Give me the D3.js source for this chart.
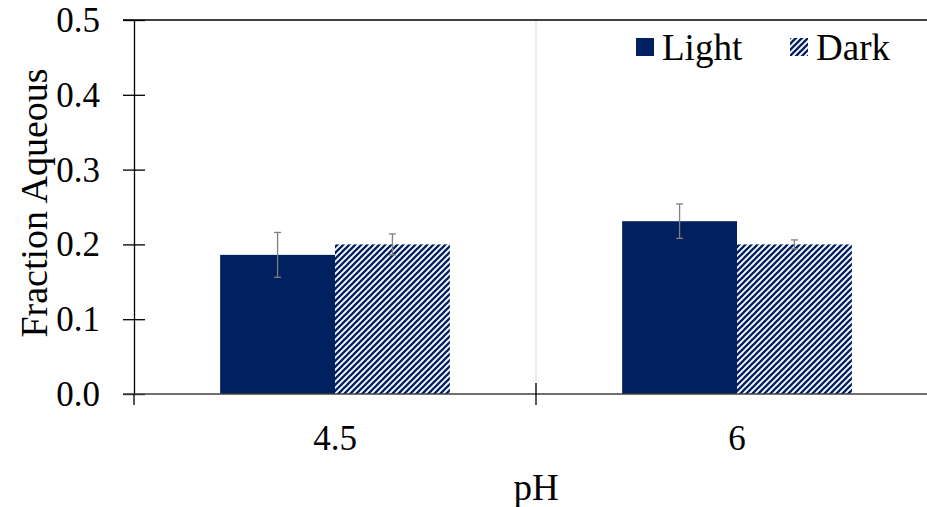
<!DOCTYPE html>
<html>
<head>
<meta charset="utf-8">
<script src="https://cdn.jsdelivr.net/npm/d3@7"></script>
<style>
  body { margin: 0; background: #fff; }
  svg text { font-family: "Liberation Serif", "DejaVu Serif", serif !important; }
</style>
</head>
<body>
<div id="chart"></div>
<script>
var categories = ["4.5", "6"];
var series = ["Light", "Dark"];
var lightValues = [0.186, 0.231];
var lightErrors = [0.030, 0.023];
var darkValues = [0.200, 0.200];
var darkErrors = [0.014, 0.006];
var yTicks = [0.0, 0.1, 0.2, 0.3, 0.4, 0.5];

var width = 927, height = 507;
var navy = "#002060";
var serif = "'Liberation Serif', 'DejaVu Serif', serif";

var mLeft = 134, mTop = 20, mBottom = 394, mRight = 938;

var svg = d3.select("#chart").append("svg")
    .attr("width", width).attr("height", height);

var defs = svg.append("defs");
var pat = defs.append("pattern")
    .attr("id", "hatch")
    .attr("patternUnits", "userSpaceOnUse")
    .attr("width", 6).attr("height", 6);
pat.append("rect").attr("width", 6).attr("height", 6).attr("fill", "#fff");
pat.append("path")
    .attr("d", "M-1,1 L1,-1 M0,6 L6,0 M5,7 L7,5")
    .attr("stroke", navy).attr("stroke-width", 2.3);

var x0 = d3.scaleBand().domain(categories).range([mLeft, mRight]);
var x1 = d3.scaleBand().domain(series).range([0, x0.bandwidth()]).paddingOuter(0.75);
var y = d3.scaleLinear().domain([0, 0.5]).range([mBottom, mTop]);

// vertical separator between categories
svg.append("line")
    .attr("x1", x0("6")).attr("x2", x0("6"))
    .attr("y1", mTop).attr("y2", mBottom)
    .attr("stroke", "#d9d9d9").attr("stroke-width", 1);

var data = [];
categories.forEach(function (c, i) {
    data.push({cat: c, s: "Light", v: lightValues[i], e: lightErrors[i]});
    data.push({cat: c, s: "Dark", v: darkValues[i], e: darkErrors[i]});
});

svg.selectAll("rect.bar")
    .data(data)
    .enter().append("rect")
    .attr("class", "bar")
    .attr("x", d => x0(d.cat) + x1(d.s))
    .attr("width", x1.bandwidth())
    .attr("y", d => y(d.v))
    .attr("height", d => y(0) - y(d.v))
    .attr("fill", d => d.s == "Light" ? navy : "url(#hatch)");

// error bars
var cx = d => x0(d.cat) + x1(d.s) + x1.bandwidth() / 2;
var eb = svg.selectAll("g.err").data(data).enter().append("g")
    .attr("stroke", "#7f7f7f").attr("stroke-width", 1.3);
eb.append("line")
    .attr("x1", cx).attr("x2", cx)
    .attr("y1", d => y(d.v + d.e)).attr("y2", d => y(d.v - d.e));
eb.append("line")
    .attr("x1", d => cx(d) - 3.5).attr("x2", d => cx(d) + 3.5)
    .attr("y1", d => y(d.v + d.e)).attr("y2", d => y(d.v + d.e));
eb.append("line")
    .attr("x1", d => cx(d) - 3.5).attr("x2", d => cx(d) + 3.5)
    .attr("y1", d => y(d.v - d.e)).attr("y2", d => y(d.v - d.e));

// top border line
svg.append("line")
    .attr("x1", mLeft - 11).attr("x2", width)
    .attr("y1", y(0.5)).attr("y2", y(0.5))
    .attr("stroke", "#000").attr("stroke-width", 1.3);

// y axis
var yAxis = svg.append("g").attr("transform", "translate(" + mLeft + ",0)")
    .call(d3.axisLeft(y).tickValues(yTicks).tickFormat(d3.format(".1f")).tickSizeInner(11).tickSizeOuter(0));
yAxis.attr("font-family", serif);
yAxis.select(".domain").attr("stroke", "#000").attr("stroke-width", 1.3);
yAxis.selectAll(".tick line").attr("x2", -11).attr("x1", 11).attr("stroke-width", 1.3);
yAxis.selectAll(".tick text")
    .attr("x", -34).attr("dy", "0.33em")
    .style("font-size", "35px").attr("fill", "#000");

// x axis
var xAxis = svg.append("g").attr("transform", "translate(0," + mBottom + ")");
xAxis.append("line")
    .attr("x1", mLeft - 11).attr("x2", width)
    .attr("stroke", "#404040").attr("stroke-width", 1.5);
var bounds = [mLeft, x0("6"), mRight];
xAxis.selectAll("line.tk")
    .data(bounds)
    .enter().append("line")
    .attr("class", "tk")
    .attr("x1", d => d).attr("x2", d => d)
    .attr("y1", (d, i) => i == 0 ? 0 : -11).attr("y2", 11)
    .attr("stroke", "#000").attr("stroke-width", 1.3);
xAxis.selectAll("text")
    .data(categories)
    .enter().append("text")
    .attr("x", d => x0(d) + x0.bandwidth() / 2)
    .attr("y", 56)
    .attr("text-anchor", "middle")
    .style("font-size", "35px")
    .text(d => d);

// axis titles
svg.append("text")
    .attr("x", x0("6")).attr("y", 500)
    .attr("text-anchor", "middle")
    .style("font-size", "37px")
    .text("pH");
svg.append("text")
    .attr("transform", "translate(47," + 203 + ") rotate(-90)")
    .attr("text-anchor", "middle")
    .style("font-size", "38px")
    .text("Fraction Aqueous");

// legend
var legend = svg.append("g");
var lx = [636, 790];
series.forEach(function (s, i) {
    legend.append("rect")
        .attr("x", lx[i]).attr("y", 38)
        .attr("width", 18).attr("height", 18)
        .attr("fill", s == "Light" ? navy : "url(#hatch)");
    legend.append("text")
        .attr("x", lx[i] + 26).attr("y", 60)
        .style("font-size", "37px")
        .text(s);
});
</script>
</body>
</html>
